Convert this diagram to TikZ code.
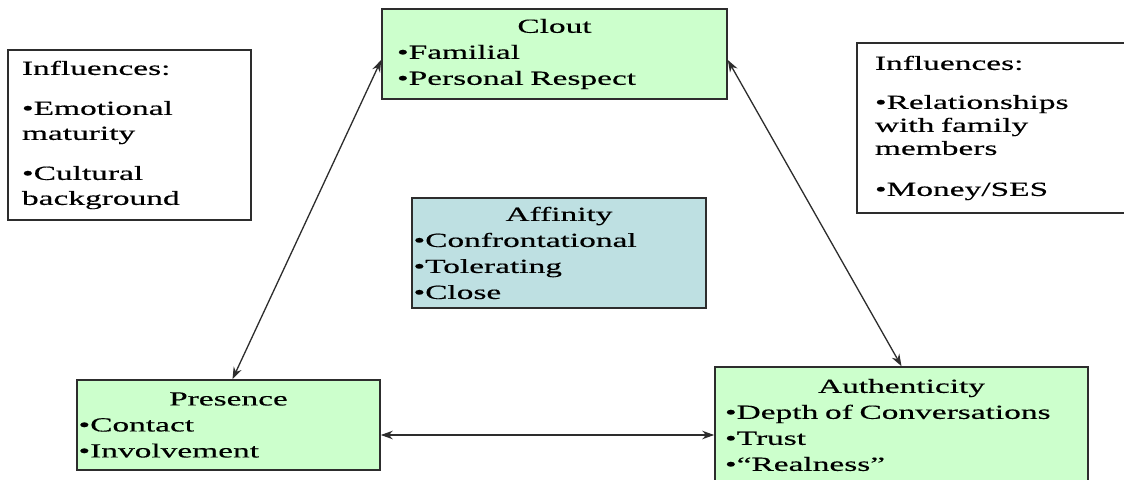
\documentclass[tikz,border=0pt]{standalone}
\usepackage{fontspec}
\setmainfont[FakeStretch=1.67,FakeBold=0.4]{Liberation Serif}
\usetikzlibrary{arrows.meta}
\definecolor{boxgreen}{RGB}{204,255,204}
\definecolor{boxblue}{RGB}{190,224,226}
\definecolor{edgegray}{RGB}{45,45,45}
\begin{document}
\begin{tikzpicture}[x=1bp,y=-1bp,
  basebox/.style={draw=edgegray, line width=1.6bp, rectangle, align=left,
    font=\fontsize{20bp}{26bp}\selectfont, inner ysep=0pt, text=black},
  greenbox/.style={basebox, fill=boxgreen},
  bluebox/.style={basebox, fill=boxblue},
  inflbox/.style={basebox, fill=white},
  conn/.style={{Stealth[length=12bp,width=8.5bp]}-{Stealth[length=12bp,width=8.5bp]}, line width=1.3bp, draw=edgegray}
]
\clip (0,0) rectangle (1124,480);
\fill[white] (0,0) rectangle (1124,480);

\node[greenbox, minimum width=345bp, minimum height=90bp, text width=315bp, inner xsep=15bp] (clout) at (554.5,54)
  {\makebox[\hsize]{Clout}\\•Familial\\•Personal Respect};

\node[inflbox, minimum width=243bp, minimum height=170bp, text width=215bp, inner xsep=14bp,
  font=\fontsize{20bp}{25bp}\selectfont] (inflL) at (129.5,135)
  {Influences:\\[15bp]•Emotional\\maturity\\[15bp]•Cultural\\background};

\node[inflbox, minimum width=277bp, minimum height=170bp, text width=241bp, inner xsep=18bp,
  font=\fontsize{20bp}{23bp}\selectfont] (inflR) at (995.5,128)
  {Influences:\\[16bp]•Relationships\\with family\\members\\[18bp]•Money/SES};

\node[bluebox, minimum width=294bp, minimum height=110bp, text width=291bp, inner xsep=1.5bp] (affinity) at (559,253)
  {\makebox[\hsize]{Affinity}\\•Confrontational\\•Tolerating\\•Close};

\node[greenbox, minimum width=303bp, minimum height=90bp, text width=300bp, inner xsep=1.5bp] (presence) at (228.5,425)
  {\makebox[\hsize]{Presence}\\•Contact\\•Involvement};

\node[greenbox, minimum width=373bp, minimum height=116bp, text width=353bp, inner xsep=10bp] (auth) at (901.5,425)
  {\makebox[\hsize]{Authenticity}\\•Depth of Conversations\\•Trust\\•“Realness”};

\draw[conn] ([yshift=-6bp]clout.west) -- ([xshift=4bp]presence.north);
\draw[conn] ([yshift=-6bp]clout.east) -- (auth.north);
\draw[conn] ([yshift=-10bp]presence.east) -- ([yshift=-10bp]auth.west);
\end{tikzpicture}
\end{document}
